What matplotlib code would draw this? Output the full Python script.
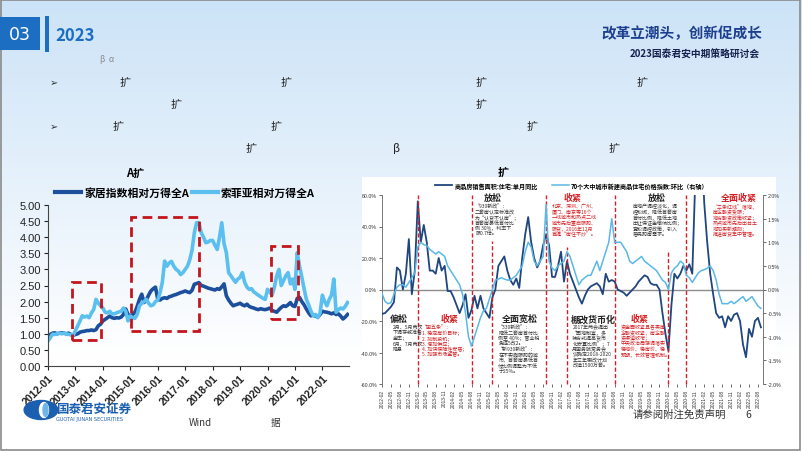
import numpy as np
import matplotlib
matplotlib.use("Agg")
import matplotlib.pyplot as plt
from matplotlib.patches import Rectangle, Circle, Ellipse

plt.rcParams['font.family'] = ['Noto Sans CJK SC', 'DejaVu Sans']
plt.rcParams['axes.unicode_minus'] = False

# ---------------- data: left chart (monthly, 2012-01 .. 2022-12) ----------------
home_rel = [
    0.90, 0.98, 1.02, 1.03, 1.00, 1.02, 1.03, 1.02, 1.00, 1.02, 0.98, 0.95,
    0.98, 1.00, 1.05, 1.07, 1.08, 1.10, 1.10, 1.12, 1.10, 1.13, 1.25, 1.30,
    1.40, 1.45, 1.50, 1.55, 1.50, 1.48, 1.50, 1.49, 1.52, 1.60, 1.77, 1.60,
    1.55, 1.60, 1.67, 1.85, 2.07, 2.23, 1.97, 2.05, 2.20, 2.33, 2.40, 2.45,
    2.07, 2.05, 2.10, 2.12, 2.10, 2.15, 2.17, 2.20, 2.22, 2.25, 2.28, 2.30,
    2.33, 2.30, 2.28, 2.35, 2.54, 2.56, 2.59, 2.50, 2.48, 2.45, 2.42, 2.40,
    2.38, 2.36, 2.40, 2.38, 2.46, 2.55, 2.18, 2.05, 1.95, 1.87, 1.90, 1.92,
    1.95, 1.90, 1.87, 1.92, 1.85, 1.82, 1.80, 1.77, 1.75, 1.78, 1.76, 1.75,
    1.77, 1.80, 1.72, 1.70, 1.67, 1.75, 1.82, 1.87, 1.85, 1.90, 1.97, 1.87,
    1.85, 2.10, 2.13, 2.00, 1.90, 1.77, 1.65, 1.56, 1.58, 1.55, 1.52, 1.60,
    1.70, 1.68, 1.67, 1.65, 1.62, 1.65, 1.60, 1.62, 1.55, 1.46, 1.52, 1.60,
]
sofia_rel = [
    0.78, 0.88, 0.99, 0.98, 1.00, 1.02, 1.00, 1.02, 1.00, 0.98, 0.97, 0.95,
    1.10, 1.25, 1.40, 1.56, 1.52, 1.55, 1.50, 1.65, 1.76, 2.07, 1.95, 1.87,
    1.80, 1.67, 1.65, 1.70, 1.62, 1.62, 1.65, 1.68, 1.70, 1.80, 1.70, 1.40,
    1.55, 1.50, 1.48, 1.60, 1.87, 1.95, 2.00, 2.07, 1.95, 1.87, 1.90, 2.00,
    2.05, 2.28, 2.60, 3.26, 3.10, 3.20, 3.25, 3.10, 3.00, 2.95, 2.84, 2.90,
    3.00, 3.10, 3.30, 3.60, 4.14, 4.45, 4.45, 4.14, 4.00, 3.83, 3.85, 3.90,
    3.90, 3.75, 3.62, 4.00, 4.45, 3.80, 3.52, 2.90, 2.80, 2.70, 2.60, 2.70,
    2.75, 2.90, 2.60, 2.45, 2.38, 2.40, 2.30, 2.25, 2.20, 2.15, 2.10, 2.07,
    2.38, 2.30, 2.20, 2.45, 2.80, 3.00, 2.50, 2.65, 2.80, 2.90, 2.55, 2.70,
    2.38, 3.52, 3.10, 2.76, 2.40, 2.07, 1.90, 1.70, 1.56, 1.60, 1.50, 1.65,
    2.20, 2.00, 1.87, 2.07, 2.20, 2.70, 1.67, 1.75, 1.80, 1.77, 1.85, 1.97,
]
left_start_year = 2012
left_tick_years = list(range(2012, 2023))
left_legend = ['家居指数相对万得全A', '索菲亚相对万得全A']
# highlighted periods: (x0, x1, y0, y1) in year / value units
boxes = [(2012.87, 2013.92, 0.80, 2.60),
         (2015.01, 2017.50, 1.08, 4.62),
         (2020.11, 2021.12, 1.47, 3.72)]

# ---------------- data: right chart (monthly, 2012-02 .. 2022-09) ----------------
sales_yoy = [
    -15.5, -15, -13, -11, -8, 14, 12, 0, 10, 32, -3, 12,
    56, 30, 41, 30, 12, 12, 10, 20, 12, 15, -1, -1,
    -5, -10, -15, -10, -3, -18, -13, -4, -12, -4, -12, -15,
    -18, -5, 0, 15, 18, 21, 12, 6, 3, 7, 1, 20,
    35, 46, 30, 20, 14, 18, 28, 35, 28, 8, 8, 15,
    24, 5, 18, 10, 5, 0, -5, -9, -4, 0, 2, 3,
    4, 2, -3, 10, 5, 6, 5, 0, -1, -2, -4, -2,
    0, 2, 5, 7, 9, 8, 4, 3, 3, 0, -15, -28,
    -39, -10, 10, 7, 10, 15, 12, 16, 10, 70, 100, 100,
    55, 30, 10, -3, -15, -18, -17, -24, -17, -20, -16, -15,
    -20, -35, -43, -25, -30, -20, -18, -24,
]
price_mom = [
    -0.08, -0.25, -0.30, -0.28, -0.10, 0.05, 0.10, 0.10, 0.05, 0.15, 0.25, 0.35,
    0.90, 1.00, 0.95, 0.93, 0.85, 0.80, 0.75, 0.80, 0.75, 0.70, 0.50, 0.40,
    0.30, 0.20, 0.10, -0.10, -0.50, -1.00, -1.20, -1.00, -0.80, -0.60, -0.45, -0.40,
    -0.20, 0.00, 0.20, 0.22, 0.25, 0.22, 0.20, 0.20, 0.25, 0.30, 0.40, 0.50,
    0.80, 1.00, 0.90, 0.60, 0.50, 0.60, 0.70, 1.80, 0.60, 0.45, 0.40, 0.50,
    0.55, 0.60, 0.80, 0.70, 0.50, 0.30, 0.10, 0.20, 0.25, 0.30, 0.30, 0.45,
    0.60, 0.40, 0.60, 0.80, 1.00, 1.50, 1.00, 1.00, 1.00, 0.90, 0.80, 0.60,
    0.55, 0.60, 0.65, 0.70, 0.60, 0.55, 0.50, 0.45, 0.40, 0.30, 0.20, 0.15,
    0.00, 0.35, 0.45, 0.50, 0.60, 0.55, 0.30, 0.25, 0.15, 0.25, 0.35, 0.40,
    0.42, 0.45, 0.50, 0.40, 0.20, -0.10, -0.30, -0.30, -0.30, -0.25, -0.30, -0.25,
    -0.20, -0.15, -0.25, -0.20, -0.15, -0.25, -0.35, -0.40,
]
right_legend = ['商品房销售面积:住宅:单月同比', '70个大中城市新建商品住宅价格指数:环比（右轴）']
right_tick_labels = ['%d-%02d' % (2012 + (1 + k) // 12, (1 + k) % 12 + 1) for k in range(0, 127, 3)]
# policy turning points (month index from 2012-02, top of dashed line in %)
policy_lines = [(12, 60), (30, 60), (37, 30.5), (55, 60), (62, 27), (78, 60), (96, 25), (102, 60)]

# annotations: (body x, heading x, heading, colour, body lines)
top_notes = [
    (31.2, 37.2, '放松', 'k', ['“930新政”：', '二套房认定标准改', '为“认贷不认房”；', '首套房最低首付比',
                               '例 30%，利率下', '限0.7倍。']),
    (56.8, 64.0, '收紧', 'r', ['北京、深圳、广州、', '厦门、南京等16个', '一线城市和热点二线', '城市先后重启限购、',
                               '限贷，2016年12月', '首提“房住不炒”。']),
    (84.0, 92.0, '放松', 'k', ['房地产调控淡化，调', '控松绑，降低首套房', '首付比例，降低土地', '出让保证金缴纳比例；',
                               '宽松调控政策，引入', '居民购房需求。']),
    (111.0, 119.5, '全面收紧', 'r', ['“三条红线”落地，', '房企融资受限；', '地方融资政策收紧；', '热点城市先后出台土',
                                    '地拍卖新规则；', '推进房贷集中管理。']),
]
bottom_notes = [
    (3.6, 5.7, '偏松', 'k', ['2月、5月两次', '下调存款准备', '金率；', '6月、7月两次', '降息']),
    (13.4, 22.5, '收紧', 'r', ['“国五条”：', '1. 稳定房价目标；', '2. 抑制投机；', '3. 增加供应；',
                               '4. 加快保障性安居；', '5. 加强市场监管。']),
    (39.0, 46.3, '全面宽松', 'k', ['“330新政”：', '降低二套房首付比', '例至 40%；营业税', '免征5改2。', '“新930新政”：',
                                   '在不实施限购的城', '市，首套房最低首', '付比例调整为不低', '于25%。']),
    (63.8, 70.8, '棚改货币化', 'k', ['2017年两会提出', '“因地制宜，多', '种方式提高货币', '化安置比例”；7',
                                     '月国务院常务会', '议确定2018-2020', '年三年棚改计划', '改造1500万套。']),
    (80.0, 86.2, '收紧', 'r', ['资金面收紧且各类房', '企融资收紧，房企融', '资渠道收窄；', '中央政治局强调落实',
                               '稳地价、稳房价、稳', '预期，长效管理机制。']),
]

# ---------------- figure ----------------
W, H = 802, 452
fig = plt.figure(figsize=(W / 100, H / 100), dpi=100)

def fx(x):
    return x / W

def fy(y):
    return 1 - y / H

# background gradient
bg = fig.add_axes([0, 0, 1, 1], zorder=-10)
grad = np.linspace(0, 1, 256)[:, None]
top_c = np.array([0.80, 0.89, 0.97])
bot_c = np.array([1.0, 1.0, 1.0])
w = np.clip(grad * 1.25, 0, 1)
img = top_c[None, None, :] * (1 - w[..., None]) + bot_c[None, None, :] * w[..., None]
img = np.repeat(img, 4, axis=1)
bg.imshow(img, aspect='auto', extent=[0, 1, 0, 1])
bg.set_axis_off()

# frame
fig.add_artist(Rectangle((0.001, 0.002), 0.997, 0.996, transform=fig.transFigure,
                         fill=False, ec='#8a8a8a', lw=1.2))

# header
fig.add_artist(Rectangle((0, fy(51)), fx(40), 33 / H, transform=fig.transFigure,
                         color='#1b6ec2', lw=0))
fig.text(fx(20), fy(35), '03', color='white', fontsize=12.5, ha='center', va='center',
         family=['DejaVu Sans'])
fig.add_artist(Rectangle((fx(45), fy(53)), fx(3.5), 36 / H, transform=fig.transFigure,
                         color='#1b6ec2', lw=0))
fig.text(fx(55), fy(36), '2023', color='#1b6ec2', fontsize=12, fontweight='bold',
         ha='left', va='center')
fig.text(fx(762), fy(33), '改革立潮头，创新促成长', color='#1d3f8f', fontsize=10.5,
         fontweight='bold', style='italic', ha='right', va='center')
fig.text(fx(760), fy(55), '2023国泰君安中期策略研讨会', color='#15224f', fontsize=7,
         fontweight='bold', ha='right', va='center')

fig.text(fx(100), fy(60), 'β  α', color='#888888', fontsize=6, ha='left', va='center')
for yy in (83, 127):
    fig.text(fx(50), fy(yy), '➢', color='#333333', fontsize=7, ha='left', va='center',
             family=['DejaVu Sans'])
kuo = [(125, 83), (286, 83), (481, 83), (642, 83), (176, 105), (481, 105),
       (118, 127), (276, 127), (532, 127), (251, 149), (614, 149)]
for (xx, yy) in kuo:
    fig.text(fx(xx), fy(yy), '扩', color='#222222', fontsize=8, ha='center', va='center')
fig.text(fx(397), fy(149), 'β', color='#222222', fontsize=8, ha='center', va='center')

# ---------------- left chart ----------------
axL = fig.add_axes([fx(48), fy(367), fx(349) - fx(48), (367 - 206) / H])
axL.patch.set_alpha(0)
xs = left_start_year + np.arange(len(home_rel)) / 12.0
axL.plot(xs, home_rel, color='#1c4f9c', lw=2.6, label=left_legend[0], solid_joinstyle='round')
axL.plot(xs, sofia_rel, color='#5bbfef', lw=2.6, label=left_legend[1], solid_joinstyle='round')
for (x0, x1, y0, y1) in boxes:
    axL.add_patch(Rectangle((x0, y0), x1 - x0, y1 - y0, fill=False, ec='#c3161c',
                            lw=2.0, ls=(0, (3.5, 2)), zorder=5))
axL.set_xlim(2012.0, 2022.97)
axL.set_ylim(0, 5)
axL.set_yticks(np.arange(0, 5.01, 0.5))
axL.set_yticklabels(['%.2f' % v for v in np.arange(0, 5.01, 0.5)], fontsize=8,
                    family=['Liberation Sans'])
axL.set_xticks(left_tick_years)
axL.set_xticklabels(['%d-01' % y for y in left_tick_years], rotation=45, ha='right',
                    rotation_mode='anchor', fontsize=7.5, fontweight='bold',
                    family=['Liberation Sans'])
for s in ('top', 'right'):
    axL.spines[s].set_visible(False)
for s in ('left', 'bottom'):
    axL.spines[s].set_color('#444444')
    axL.spines[s].set_linewidth(0.8)
axL.tick_params(axis='both', length=3, width=0.8, colors='#222222', pad=2)
leg = axL.legend(loc='lower left', bbox_to_anchor=(fx(56) - fx(48), (367 - 203) / (367 - 206)),
                 bbox_transform=axL.transAxes, ncol=2, frameon=False,
                 handlelength=2.4, handletextpad=0.3, columnspacing=0.2, borderaxespad=0,
                 prop={'weight': 'bold', 'size': 7.8})
for line in leg.get_lines():
    line.set_linewidth(3)
fig.text(fx(135), fy(173), 'A扩', fontsize=8, fontweight='bold', ha='center', va='center')

# ---------------- right chart ----------------
fig.add_artist(Rectangle((fx(362), fy(399)), fx(776) - fx(362), (399 - 178) / H,
                         transform=fig.transFigure, color='white', lw=0, zorder=0.5))
axR = fig.add_axes([fx(382), fy(385), fx(763) - fx(382), (385 - 196) / H], zorder=2)
axR.patch.set_alpha(0)
mR = np.arange(len(sales_yoy))
axR.axhline(0, color='#8c8c8c', lw=1.0, zorder=1)
l1, = axR.plot(mR, sales_yoy, color='#1f467f', lw=1.3, zorder=3)
axR.set_xlim(0, 127.7)
axR.set_ylim(-60, 60)
axR.set_yticks(np.arange(-60, 61, 20))
axR.set_yticklabels(['%.1f%%' % v for v in np.arange(-60, 61, 20)], fontsize=3.8,
                    family=['Liberation Sans'])
axR.set_xticks(np.arange(0, 127, 3))
axR.set_xticklabels(right_tick_labels, rotation=90, fontsize=3.5, family=['Liberation Sans'])
axR.tick_params(axis='both', length=2, width=0.5, colors='#333333', pad=1.5)
for s in ('top', 'bottom', 'right'):
    axR.spines[s].set_visible(False)
axR.spines['left'].set_color('#777777')
axR.spines['left'].set_linewidth(0.7)

axR2 = axR.twinx()
axR2.patch.set_alpha(0)
l2, = axR2.plot(mR, price_mom, color='#5bb8e6', lw=1.1, zorder=2)
axR2.set_ylim(-2, 2)
axR2.set_yticks(np.arange(-2, 2.01, 0.5))
axR2.set_yticklabels(['%.1f%%' % v for v in np.arange(-2, 2.01, 0.5)], fontsize=3.8,
                     family=['Liberation Sans'])
axR2.tick_params(axis='y', length=2, width=0.5, colors='#333333', pad=1.5)
for s in ('top', 'bottom', 'left'):
    axR2.spines[s].set_visible(False)
axR2.spines['right'].set_color('#777777')
axR2.spines['right'].set_linewidth(0.7)

for (mx, ytop) in policy_lines:
    axR.plot([mx, mx], [-60, ytop], color='#d42024', lw=1.0, ls=(0, (3, 1.6)), zorder=4,
             clip_on=False)

def notes(items, head_y, body_y0):
    for (x0, hx, head, col, lines) in items:
        c = '#d42024' if col == 'r' else '#333333'
        hc = '#d42024' if col == 'r' else '#222222'
        axR.text(hx, head_y, head, color=hc, fontsize=6.5, fontweight='bold',
                 ha='center', va='center', zorder=6)
        for i, s in enumerate(lines):
            axR.text(x0, body_y0 - i * 3.5, s, color=c, fontsize=3.6, ha='left', va='center',
                     zorder=6)

notes(top_notes, 58.3, 53.0)
notes(bottom_notes, -18.5, -23.5)

fig.legend([l1, l2], right_legend, loc='center', bbox_to_anchor=(fx(572), fy(186)), ncol=2,
           frameon=False, prop={'weight': 'bold', 'size': 4.4}, handlelength=2.8,
           handletextpad=0.4, columnspacing=2.2)
fig.text(fx(503), fy(172), '扩', fontsize=8, fontweight='bold', ha='center', va='center')

# ---------------- footer ----------------
fig.add_artist(Circle((fx(41), fy(411)), 9.5 / H, transform=fig.transFigure, color='#1b5fb0', zorder=3))
fig.add_artist(Ellipse((fx(44), fy(411)), 9 / W, 15 / H, transform=fig.transFigure, color='white', zorder=4))
fig.add_artist(Ellipse((fx(45.5), fy(411)), 5 / W, 13 / H, transform=fig.transFigure, color='#6fb6e8', zorder=5))
fig.text(fx(56), fy(409), '国泰君安证券', color='#1b5fb0', fontsize=9, fontweight='bold',
         ha='left', va='center')
fig.text(fx(56), fy(420), 'GUOTAI JUNAN SECURITIES', color='#1b5fb0', fontsize=3.6,
         ha='left', va='center', family=['DejaVu Sans'])
fig.text(fx(200), fy(423), 'Wind', color='#333333', fontsize=7, ha='center', va='center')
fig.text(fx(276), fy(423), '据', color='#333333', fontsize=7, ha='center', va='center')
fig.text(fx(679), fy(415), '请参阅附注免责声明', color='#333333', fontsize=7.5, ha='center', va='center')
fig.text(fx(748), fy(415), '6', color='#333333', fontsize=7.5, ha='center', va='center')

fig.savefig('out.png', dpi=100)
